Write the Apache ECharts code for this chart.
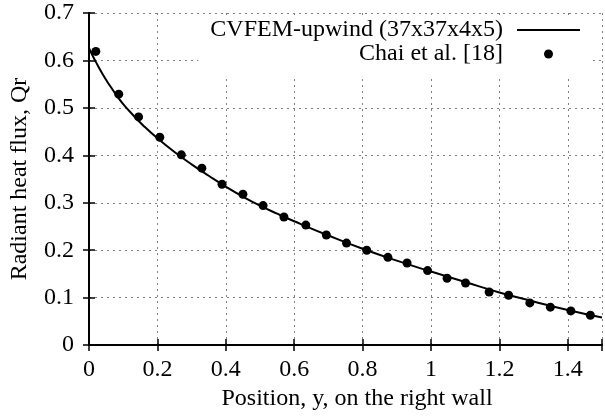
<!DOCTYPE html>
<html>
<head>
<meta charset="utf-8">
<script src="https://cdn.jsdelivr.net/npm/echarts@6/dist/echarts.min.js"></script>
<style>
  html, body { margin: 0; padding: 0; background: #fff; }
  #chart { width: 605px; height: 416px; }
</style>
</head>
<body>
<div id="chart"></div>
<script>
// CVFEM-upwind curve (x, Qr)
const curveX = [0, 0.01, 0.02, 0.04, 0.06, 0.08, 0.1, 0.13, 0.16, 0.2, 0.25, 0.3, 0.35, 0.4, 0.45, 0.5, 0.55, 0.6, 0.7, 0.8, 0.9, 1.0, 1.1, 1.2, 1.3, 1.4, 1.5];
const curveY = [0.626, 0.611, 0.597, 0.571, 0.548, 0.527, 0.508, 0.484, 0.462, 0.436, 0.407, 0.381, 0.357, 0.334, 0.313, 0.294, 0.277, 0.261, 0.231, 0.203, 0.178, 0.155, 0.133, 0.111, 0.092, 0.074, 0.058];
// Chai et al. [18] reference points
const chaiX = [0.02, 0.087, 0.145, 0.207, 0.27, 0.33, 0.389, 0.45, 0.509, 0.57, 0.634, 0.694, 0.753, 0.812, 0.874, 0.93, 0.99, 1.047, 1.101, 1.17, 1.227, 1.289, 1.349, 1.409, 1.466];
const chaiY = [0.619, 0.529, 0.481, 0.438, 0.401, 0.373, 0.339, 0.318, 0.294, 0.270, 0.253, 0.232, 0.215, 0.200, 0.185, 0.173, 0.157, 0.141, 0.131, 0.112, 0.105, 0.089, 0.080, 0.072, 0.063];
const xTicks = [0, 0.2, 0.4, 0.6, 0.8, 1, 1.2, 1.4];
const yTicks = [0, 0.1, 0.2, 0.3, 0.4, 0.5, 0.6, 0.7];
const seriesNames = ['CVFEM-upwind (37x37x4x5)', 'Chai et al. [18]'];
const xTitle = 'Position, y, on the right wall';
const yTitle = 'Radiant heat flux, Qr';

const FONT = 'Liberation Serif';
const FS = 24;

const chart = echarts.init(document.getElementById('chart'), null, { renderer: 'canvas' });

const fmt = (ticks) => (v) => {
  const hit = ticks.find(t => Math.abs(t - v) < 1e-6);
  return hit === undefined ? '' : String(hit);
};

const tickStyle = { show: true, inside: true, length: 6, lineStyle: { color: '#000', width: 1.5 } };
const lineStyle = { show: true, lineStyle: { color: '#000', width: 2 } };
const gridLine = { show: true, lineStyle: { color: '#808080', width: 1, type: [2, 4] } };

const option = {
  backgroundColor: '#fff',
  animation: false,
  grid: { left: 88, right: -4, top: 13, bottom: 63, containLabel: false },
  legend: {
    orient: 'vertical',
    right: 13,
    top: 18,
    align: 'right',
    padding: [0, 12, 10, 12],
    itemWidth: 63,
    itemHeight: 9,
    itemGap: 0,
    backgroundColor: '#fff',
    textStyle: { fontFamily: FONT, fontSize: FS, color: '#000', lineHeight: 23, padding: [0, 9, 0, 0] },
    data: [
      { name: seriesNames[0], icon: 'path://M0,0L0,0M0,3.5L63,3.5L63,5.5L0,5.5ZM63,9L63,9' },
      { name: seriesNames[1], icon: 'circle' }
    ]
  },
  xAxis: [
    {
      type: 'value', position: 'bottom', min: 0, max: 1.5, interval: 0.2,
      axisLine: lineStyle, axisTick: tickStyle, splitLine: gridLine,
      axisLabel: { margin: 13, fontFamily: FONT, fontSize: FS, color: '#000', formatter: fmt(xTicks) },
      name: xTitle, nameLocation: 'middle', nameGap: 36,
      nameTextStyle: { fontFamily: FONT, fontSize: FS, color: '#000', padding: [0, 0, 0, 23] }
    },
    {
      type: 'value', position: 'top', min: 0, max: 1.5, interval: 0.2,
      axisLine: lineStyle, axisTick: tickStyle, splitLine: { show: false },
      axisLabel: { show: false }
    }
  ],
  yAxis: [
    {
      type: 'value', position: 'left', min: 0, max: 0.7, interval: 0.1,
      axisLine: lineStyle, axisTick: tickStyle, splitLine: gridLine,
      axisLabel: { margin: 15, fontFamily: FONT, fontSize: FS, color: '#000', formatter: fmt(yTicks) },
      name: yTitle, nameLocation: 'middle', nameGap: 57,
      nameTextStyle: { fontFamily: FONT, fontSize: FS, color: '#000' }
    },
    {
      type: 'value', position: 'right', min: 0, max: 0.7, interval: 0.1,
      axisLine: lineStyle, axisTick: tickStyle, splitLine: { show: false },
      axisLabel: { show: false }
    }
  ],
  series: [
    {
      name: seriesNames[0], type: 'line', xAxisIndex: 0, yAxisIndex: 0,
      data: curveX.map((x, i) => [x, curveY[i]]),
      symbol: 'none', smooth: 0.5,
      lineStyle: { color: '#000', width: 2 },
      itemStyle: { color: '#000' }, z: 3
    },
    {
      name: seriesNames[1], type: 'scatter', xAxisIndex: 0, yAxisIndex: 0,
      data: chaiX.map((x, i) => [x, chaiY[i]]),
      symbol: 'circle', symbolSize: 9,
      itemStyle: { color: '#000', opacity: 1 }, z: 4
    }
  ]
};
chart.setOption(option);
</script>
</body>
</html>
